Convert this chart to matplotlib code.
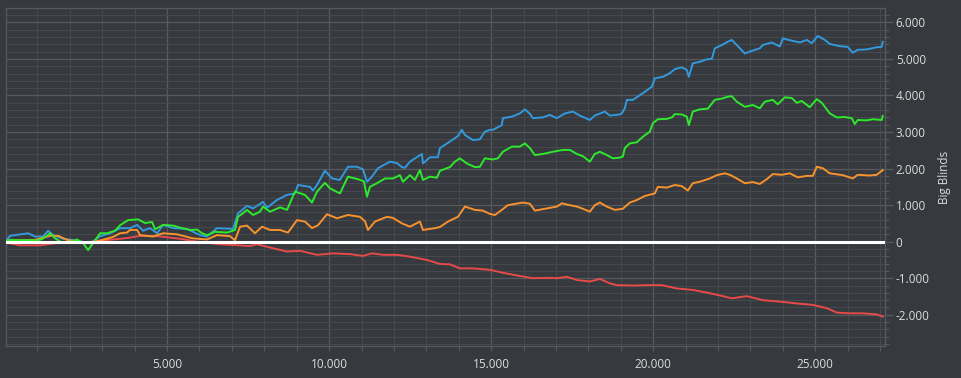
import matplotlib
matplotlib.use("Agg")
import matplotlib.pyplot as plt
from matplotlib.ticker import MultipleLocator, FuncFormatter

plt.rcParams['font.family'] = ['Open Sans', 'DejaVu Sans']

# hands played / big blinds won
blue_hands = [0, 157, 712, 928, 1175, 1329, 1483, 1792, 2224, 2624, 2933, 3241,
              3550, 3858, 4074, 4259, 4475, 4691, 4876, 5184, 5616, 6017, 6233,
              6541, 7035, 7189, 7251, 7467, 7652, 7960, 8083, 8392, 8700, 8947,
              9039, 9409, 9502, 9625, 9872, 10088, 10334, 10581, 10859, 11044,
              11167, 11322, 11507, 11877, 12093, 12247, 12339, 12494, 12740,
              12864, 12895, 13110, 13357, 13419, 13727, 13974, 14097, 14190,
              14436, 14652, 14806, 14961, 15053, 15330, 15361, 15639, 15886,
              16040, 16194, 16287, 16595, 16811, 17027, 17274, 17520, 17736,
              18045, 18199, 18508, 18662, 18970, 19032, 19124, 19186, 19371,
              19525, 19741, 19957, 20050, 20297, 20513, 20667, 20883, 21037,
              21099, 21222, 21438, 21654, 21808, 21901, 22116, 22302, 22425,
              22579, 22826, 23073, 23289, 23381, 23659, 23906, 23998, 24276,
              24523, 24739, 24893, 25078, 25294, 25448, 25757, 26003, 26158,
              26312, 26589, 26898, 27052, 27083]
blue_bb = [0, 160, 230, 140, 140, 300, 180, 80, 30, -50, 150, 230,
           370, 370, 460, 300, 370, 230, 460, 370, 350, 180, 140,
           370, 350, 780, 820, 980, 910, 1090, 930, 1140, 1280, 1320,
           1550, 1500, 1400, 1550, 1940, 1730, 1690, 2050, 2050, 1980,
           1640, 1780, 2010, 2190, 2150, 2040, 2020, 2190, 2330,
           2400, 2140, 2310, 2310, 2560, 2740, 2890, 3060, 2920,
           2780, 2800, 3010, 3060, 3060, 3190, 3380, 3420, 3510,
           3620, 3500, 3380, 3400, 3470, 3380, 3510, 3560, 3450,
           3330, 3450, 3560, 3450, 3480, 3510, 3650, 3880, 3880,
           3970, 4100, 4240, 4470, 4510, 4610, 4720, 4770, 4700,
           4510, 4880, 4920, 4990, 5000, 5290, 5380, 5470, 5520,
           5380, 5150, 5230, 5290, 5380, 5450, 5340, 5560, 5500,
           5450, 5520, 5430, 5630, 5520, 5410, 5350, 5330, 5170,
           5250, 5260, 5320, 5330, 5470]

green_hands = [0, 157, 466, 1020, 1145, 1391, 1545, 1792, 2008, 2224, 2409,
               2563, 2717, 2933, 3149, 3395, 3550, 3796, 4105, 4321, 4537,
               4629, 4876, 5184, 5462, 5709, 5925, 6079, 6233, 6480, 6850,
               7096, 7189, 7343, 7467, 7652, 7867, 7960, 8176, 8484, 8700,
               8947, 9255, 9471, 9625, 9872, 10026, 10334, 10581, 10890,
               11075, 11167, 11260, 11476, 11723, 11969, 12185, 12278, 12494,
               12648, 12802, 12895, 13110, 13326, 13419, 13727, 13881, 14035,
               14251, 14498, 14652, 14806, 15053, 15207, 15361, 15639, 15886,
               16040, 16194, 16348, 16595, 16903, 17212, 17428, 17644, 17829,
               18045, 18199, 18353, 18569, 18754, 18970, 19063, 19124, 19279,
               19494, 19680, 19896, 19988, 20142, 20420, 20574, 20667, 20883,
               21037, 21099, 21222, 21438, 21685, 21901, 22147, 22302, 22425,
               22579, 22826, 23073, 23289, 23443, 23690, 23844, 24060, 24276,
               24430, 24584, 24831, 25047, 25202, 25448, 25664, 25911, 26127,
               26219, 26312, 26589, 26774, 27052, 27083]
green_bb = [0, 50, 40, 40, 70, 230, 90, -40, 0, 60, -40,
            -230, -40, 230, 230, 300, 450, 590, 610, 510, 540,
            340, 460, 440, 370, 320, 330, 230, 180, 270, 250,
            320, 680, 780, 870, 730, 820, 960, 820, 940, 870,
            1370, 1280, 1070, 1370, 1610, 1460, 1320, 1780, 1710,
            1650, 1230, 1500, 1600, 1730, 1730, 1820, 1640, 1820,
            1690, 1960, 1690, 1780, 1750, 1940, 2040, 2190, 2280,
            2140, 2040, 2050, 2280, 2250, 2280, 2460, 2600, 2600,
            2690, 2560, 2370, 2400, 2460, 2510, 2510, 2400, 2340,
            2190, 2400, 2460, 2370, 2280, 2300, 2330, 2560, 2690,
            2720, 2870, 3010, 3240, 3350, 3360, 3400, 3490, 3480,
            3420, 3190, 3560, 3620, 3640, 3880, 3920, 3970, 3980,
            3830, 3690, 3740, 3650, 3830, 3880, 3760, 3950, 3930,
            3800, 3850, 3680, 3900, 3800, 3510, 3400, 3410, 3380,
            3220, 3330, 3320, 3350, 3330, 3440]

orange_hands = [0, 157, 466, 928, 1391, 1638, 1915, 2224, 2532, 2933, 3334,
                3550, 3766, 3858, 4074, 4166, 4567, 4876, 5308, 5801, 6233,
                6541, 6942, 7096, 7251, 7467, 7713, 7929, 8176, 8484, 8731,
                9009, 9255, 9471, 9656, 9934, 10242, 10581, 10951, 11106,
                11198, 11414, 11784, 11969, 12247, 12494, 12802, 12895, 13265,
                13419, 13666, 13974, 14190, 14498, 14745, 14961, 15115, 15330,
                15515, 15978, 16194, 16348, 16718, 17027, 17181, 17366, 17644,
                17829, 18045, 18199, 18353, 18569, 18816, 19063, 19279, 19494,
                19741, 20050, 20142, 20420, 20667, 20883, 21068, 21222, 21438,
                21746, 21962, 22209, 22363, 22579, 22826, 23073, 23289, 23505,
                23690, 23967, 24214, 24461, 24739, 24924, 25047, 25232, 25448,
                25849, 26158, 26312, 26682, 26898, 27083]
orange_bb = [0, 50, 40, 50, 160, 160, 50, 0, -40, 30, 130,
             230, 250, 320, 320, 180, 140, 230, 200, 90, 60,
             180, 150, 40, 410, 440, 230, 410, 320, 320, 250,
             590, 550, 370, 450, 750, 640, 730, 680, 560,
             320, 550, 680, 650, 500, 410, 550, 320, 370,
             400, 550, 680, 960, 870, 850, 760, 730, 870,
             1000, 1070, 1040, 850, 910, 960, 1050, 1010, 960,
             900, 820, 1000, 1070, 960, 870, 900, 1070, 1140,
             1250, 1320, 1500, 1480, 1550, 1520, 1400, 1600, 1640,
             1730, 1820, 1870, 1830, 1730, 1600, 1630, 1580, 1710,
             1850, 1830, 1870, 1760, 1800, 1800, 2050, 2010, 1870,
             1820, 1730, 1830, 1810, 1830, 1960]

red_hands = [0, 157, 466, 1082, 1391, 1915, 2532, 2933, 3334, 3766, 4166,
             4722, 5400, 5925, 6326, 6634, 7035, 7559, 7775, 8268, 8700,
             9101, 9625, 10119, 10643, 11044, 11322, 11661, 12093, 12494,
             13018, 13419, 13727, 14035, 14436, 14961, 15361, 15886, 16287,
             16718, 17027, 17335, 17644, 18045, 18353, 18662, 18878, 19371,
             19896, 20266, 20729, 21222, 21746, 22147, 22425, 22888, 23381,
             23906, 24430, 24924, 25356, 25664, 26065, 26466, 26898, 27083]
red_bb = [0, -45, -100, -100, -60, 0, -20, 30, 60, 100, 160,
          150, 80, 0, -40, -70, -90, -120, -70, -180, -270,
          -250, -360, -320, -340, -390, -320, -360, -360, -410,
          -500, -610, -620, -730, -730, -770, -850, -940, -1000,
          -990, -1000, -960, -1050, -1090, -1020, -1140, -1190, -1200,
          -1190, -1190, -1280, -1320, -1410, -1490, -1550, -1490, -1600,
          -1640, -1690, -1730, -1820, -1940, -1960, -1960, -1990, -2050]

bg = '#36393d'
major_grid = '#57595d'
minor_grid = '#45484c'
text_col = '#dcdcdc'

fig = plt.figure(figsize=(9.61, 3.78), dpi=100, facecolor=bg)
ax = fig.add_axes([0.0066, 0.0847, 0.9139, 0.8933])
ax.set_facecolor(bg)

ax.plot(blue_hands, blue_bb, color='#3399dd', lw=1.4, zorder=3)
ax.plot(red_hands, red_bb, color='#e84a4a', lw=1.4, zorder=3)
ax.plot(orange_hands, orange_bb, color='#f7922e', lw=1.4, zorder=3)
ax.plot(green_hands, green_bb, color='#2ee82e', lw=1.4, zorder=4)
ax.axhline(0, color='white', lw=2.2, zorder=5)

ax.set_xlim(40, 27140)
ax.set_ylim(-2854, 6385)

ax.xaxis.set_major_locator(MultipleLocator(5000))
ax.xaxis.set_minor_locator(MultipleLocator(1000))
ax.yaxis.set_major_locator(MultipleLocator(1000))
ax.yaxis.set_minor_locator(MultipleLocator(200))

fmt = FuncFormatter(lambda v, p: f"{int(round(v)):,}".replace(",", "."))
ax.xaxis.set_major_formatter(fmt)
ax.yaxis.set_major_formatter(fmt)

ax.yaxis.tick_right()
ax.yaxis.set_label_position('right')
ax.set_ylabel('Big Blinds', color=text_col, fontsize=8.5, labelpad=6)

ax.grid(which='major', color=major_grid, lw=0.9, zorder=0)
ax.grid(which='minor', color=minor_grid, lw=0.8, zorder=0)
ax.set_axisbelow(True)

ax.tick_params(axis='both', which='major', colors=major_grid, labelcolor=text_col,
               labelsize=8.5, length=6, width=0.9)
ax.tick_params(axis='y', which='minor', colors=major_grid, length=3, width=0.8)
ax.tick_params(axis='x', which='minor', colors=major_grid, length=3.5, width=0.8)
ax.tick_params(axis='x', which='major', length=3.5, pad=5)
ax.tick_params(axis='y', which='major', pad=2)

for s in ax.spines.values():
    s.set_color(major_grid)
    s.set_linewidth(0.9)

fig.savefig('out.png', dpi=100, facecolor=bg)
